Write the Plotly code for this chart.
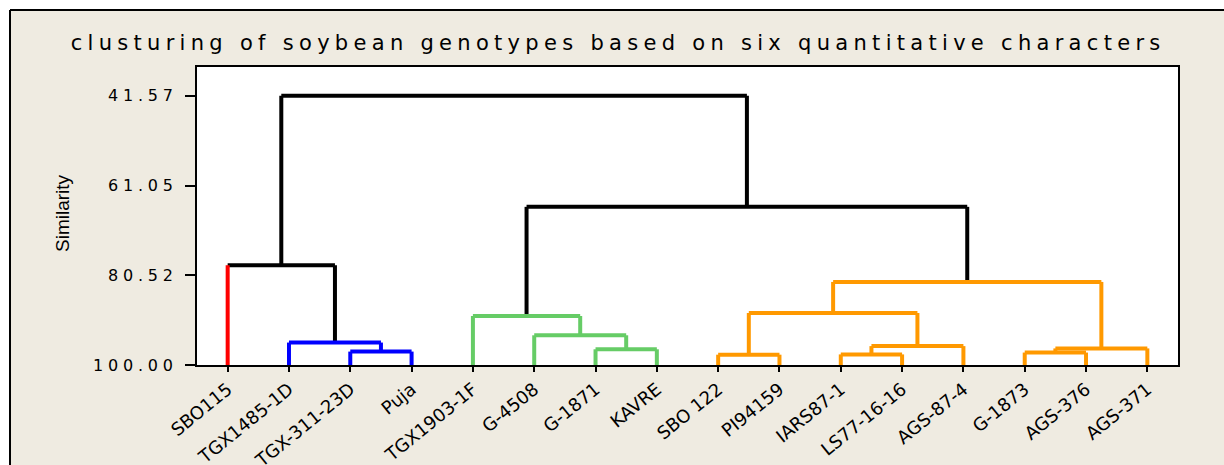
import plotly.graph_objects as go

# ---------------- data ----------------
leaf_labels = ["SBO115", "TGX1485-1D", "TGX-311-23D", "Puja", "TGX1903-1F",
               "G-4508", "G-1871", "KAVRE", "SBO 122", "PI94159", "IARS87-1",
               "LS77-16-16", "AGS-87-4", "G-1873", "AGS-376", "AGS-371"]
leaf_groups = ["red", "blue", "blue", "blue", "green", "green", "green", "green",
               "orange", "orange", "orange", "orange", "orange", "orange", "orange", "orange"]
# merges: (left child id, right child id, similarity level); new ids start at 16
merge_left = [2, 1, 0, 6, 5, 4, 8, 10, 23, 22, 13, 26, 25, 21, 18]
merge_right = [3, 16, 17, 7, 19, 20, 9, 11, 12, 24, 14, 15, 27, 28, 29]
merge_sim = [97.09, 95.13, 78.35, 96.59, 93.55, 89.36, 97.76, 97.70, 95.90,
             88.71, 97.30, 96.40, 81.97, 65.68, 41.57]
ytick_vals = [41.57, 61.05, 80.52, 100.00]
ytick_text = ["41.57", "61.05", "80.52", "100.00"]
title_text = "clusturing of soybean genotypes based on six quantitative characters"
y_title = "Similarity"

# ---------------- styles ----------------
group_colors = {"red": "#FF0000", "blue": "#0000FF", "green": "#66CC66",
                "orange": "#FF9900", "black": "#000000"}
W, H = 1224, 465
L, R, T, B = 197, 46, 67, 100
PW, PH = W - L - R, H - T - B
BG = "#EFEBE1"

n = len(leaf_labels)
xpos = {i: i + 1 for i in range(n)}
ypos = {i: 100.0 for i in range(n)}
group = {i: leaf_groups[i] for i in range(n)}
segs = {}  # color -> (xs, ys)


def add_seg(color, xs, ys):
    c = group_colors[color]
    segs.setdefault(c, ([], []))
    segs[c][0].extend(xs + [None])
    segs[c][1].extend(ys + [None])


for k, (a, b, s) in enumerate(zip(merge_left, merge_right, merge_sim)):
    node = n + k
    g = group[a] if group[a] == group[b] else "black"
    group[node] = g
    xpos[node] = (xpos[a] + xpos[b]) / 2
    ypos[node] = s
    for ch in (a, b):
        col = group[ch] if ch < n else g
        add_seg(col, [xpos[ch], xpos[ch]], [ypos[ch], s])
    add_seg(g, [xpos[a], xpos[b]], [s, s])

fig = go.Figure()
order = ["#000000", "#FF0000", "#0000FF", "#66CC66", "#FF9900"]
for c in order:
    if c in segs:
        fig.add_trace(go.Scatter(x=segs[c][0], y=segs[c][1], mode="lines",
                                 line=dict(color=c, width=4), hoverinfo="skip",
                                 showlegend=False))


def px_x(px):
    return (px - L) / PW


def px_y(py):
    return (H - B - py) / PH


shapes = [
    dict(type="rect", xref="paper", yref="paper", x0=px_x(-5), x1=px_x(W + 5),
         y0=px_y(10), y1=px_y(-5), fillcolor="white", line=dict(width=0), layer="below"),
    dict(type="rect", xref="paper", yref="paper", x0=px_x(-5), x1=px_x(10),
         y0=px_y(H + 5), y1=px_y(-5), fillcolor="white", line=dict(width=0), layer="below"),
    dict(type="line", xref="paper", yref="paper", x0=px_x(10), x1=px_x(W + 5),
         y0=px_y(10), y1=px_y(10), line=dict(color="black", width=2), layer="below"),
    dict(type="line", xref="paper", yref="paper", x0=px_x(10), x1=px_x(10),
         y0=px_y(10), y1=px_y(H + 5), line=dict(color="black", width=2), layer="below"),
]

fig.update_layout(
    width=W, height=H, autosize=False,
    margin=dict(l=L, r=R, t=T, b=B),
    paper_bgcolor=BG, plot_bgcolor="white",
    showlegend=False,
    title=dict(text=title_text, xref="container", x=0.505, xanchor="center",
               yref="container", y=1 - 43 / H, yanchor="middle",
               font=dict(family="DejaVu Sans", size=21, color="black")),
    shapes=shapes,
    annotations=[dict(text=y_title, xref="paper", yref="paper", x=px_x(62),
                      y=px_y(213), showarrow=False, textangle=-90,
                      xanchor="center", yanchor="middle",
                      font=dict(family="Liberation Sans Narrow, Liberation Sans", size=19,
                                color="black"))],
)
fig.update_xaxes(range=[0.5, 16.5], tickmode="array", automargin=False,
                 tickvals=list(range(1, n + 1)), ticktext=leaf_labels,
                 tickangle=-39, ticks="outside", ticklen=5, tickwidth=2,
                 tickcolor="black", showgrid=False, zeroline=False,
                 showline=True, linecolor="black", linewidth=2, mirror=True,
                 tickfont=dict(family="DejaVu Sans", size=18, color="black"))
fig.update_yaxes(range=[100, 35.33], tickmode="array", tickvals=ytick_vals,
                 ticktext=ytick_text, ticks="outside", ticklen=10, tickwidth=2,
                 tickcolor="black", showgrid=False, zeroline=False, automargin=False,
                 showline=True, linecolor="black", linewidth=2, mirror=True,
                 ticklabelstandoff=4,
                 tickfont=dict(family="DejaVu Sans", size=16, color="black"))

post = """
document.documentElement.style.margin='0';
document.body.style.margin='0';
document.body.style.overflow='hidden';
var gd = document.getElementById('{plot_id}');
function ls(){
  gd.querySelectorAll('.gtitle').forEach(function(e){ e.style.letterSpacing='5.3px'; });
  gd.querySelectorAll('.ytick text').forEach(function(e){ e.style.letterSpacing='4.8px'; });
}
ls();
gd.on('plotly_afterplot', ls);
"""
fig.write_html("out.html", post_script=post,
               config={"responsive": False, "displayModeBar": False, "staticPlot": True})
